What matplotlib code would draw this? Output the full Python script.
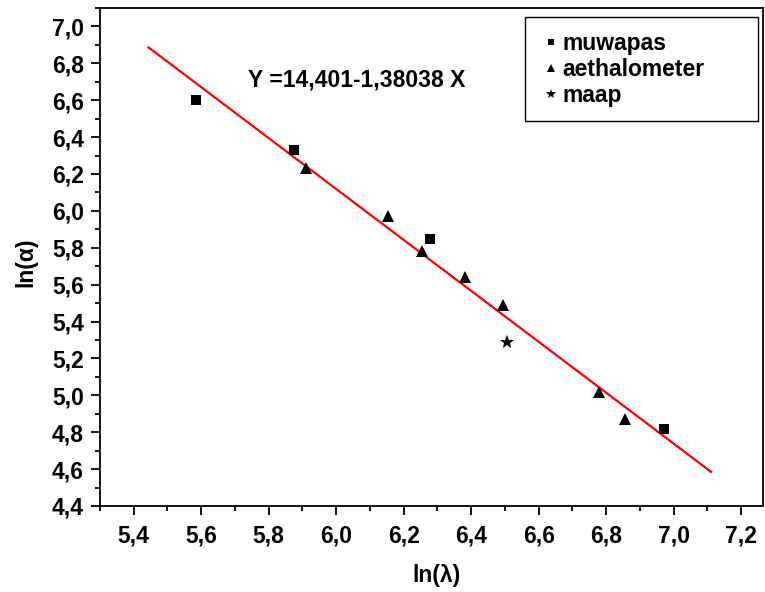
import numpy as np
import matplotlib
matplotlib.use('Agg')
import matplotlib.pyplot as plt
from matplotlib.ticker import MultipleLocator, FuncFormatter

plt.rcParams['font.family'] = ['Liberation Sans', 'DejaVu Sans']
plt.rcParams['font.weight'] = 'bold'

# data
muwapas_x = [5.585, 5.874, 6.277, 6.971]
muwapas_y = [6.600, 6.329, 5.846, 4.815]

aeth_x = [5.912, 6.153, 6.255, 6.381, 6.494, 6.780, 6.855]
aeth_y = [6.232, 5.971, 5.783, 5.642, 5.487, 5.019, 4.870]

maap_x = [6.507]
maap_y = [5.287]

# linear fit Y = a + b X
fit_a = 14.401
fit_b = -1.38038
fit_range = [5.444, 7.111]

fig = plt.figure(figsize=(7.65, 5.92), dpi=100)
ax = fig.add_axes([0.1307, 0.1453, 0.8667, 0.8412])

fx = np.array(fit_range)
ax.plot(fx, fit_a + fit_b * fx, color='red', lw=1.6, zorder=2)

ax.plot(muwapas_x, muwapas_y, 's', color='black', ms=7.2, mew=0,
        linestyle='none', label='muwapas', zorder=3)
ax.plot(aeth_x, aeth_y, '^', color='black', ms=8.5, mew=0,
        linestyle='none', label='aethalometer', zorder=3)
ax.plot(maap_x, maap_y, '*', color='black', ms=10.5, mew=0,
        linestyle='none', label='maap', zorder=3)

ax.text(0.223, 0.855, 'Y =14,401-1,38038 X', transform=ax.transAxes,
        fontsize=16.5, fontweight='bold', ha='left', va='center')

ax.set_xlim(5.3, 7.265)
ax.set_ylim(4.4, 7.1)

ax.xaxis.set_major_locator(MultipleLocator(0.2))
ax.xaxis.set_minor_locator(MultipleLocator(0.1))
ax.yaxis.set_major_locator(MultipleLocator(0.2))
ax.yaxis.set_minor_locator(MultipleLocator(0.1))

comma = FuncFormatter(lambda v, p: ('%.1f' % v).replace('.', ','))
ax.xaxis.set_major_formatter(comma)
ax.yaxis.set_major_formatter(comma)

ax.tick_params(which='both', direction='out', top=False, right=False, width=1.3)
ax.tick_params(which='major', length=6.5, labelsize=16.5)
ax.tick_params(axis='x', which='major', pad=7)
ax.tick_params(axis='y', which='major', pad=5)
ax.tick_params(which='minor', length=3.6)
for lab in ax.get_xticklabels() + ax.get_yticklabels():
    lab.set_fontweight('bold')

for s in ax.spines.values():
    s.set_linewidth(1.3)

ax.set_xlabel('ln(λ)', fontsize=16.5, fontweight='bold')
ax.set_ylabel('ln(α)', fontsize=16.5, fontweight='bold')
ax.xaxis.set_label_coords(0.508, -0.116)
ax.yaxis.set_label_coords(-0.095, 0.49)

leg = ax.legend(loc='upper left', bbox_to_anchor=(0.641, 0.77, 0.3514, 0.212),
                mode='expand', borderaxespad=0, fancybox=False,
                edgecolor='black', framealpha=1, fontsize=16.5,
                handlelength=1.0, handletextpad=0.0, borderpad=0.64,
                labelspacing=0.13)
leg.get_frame().set_linewidth(1.0)
for t in leg.get_texts():
    t.set_fontweight('bold')
for h, s in zip(leg.legend_handles, [4.5, 5.2, 7.0]):
    h.set_markersize(s)

fig.savefig('out.png', dpi=100)
